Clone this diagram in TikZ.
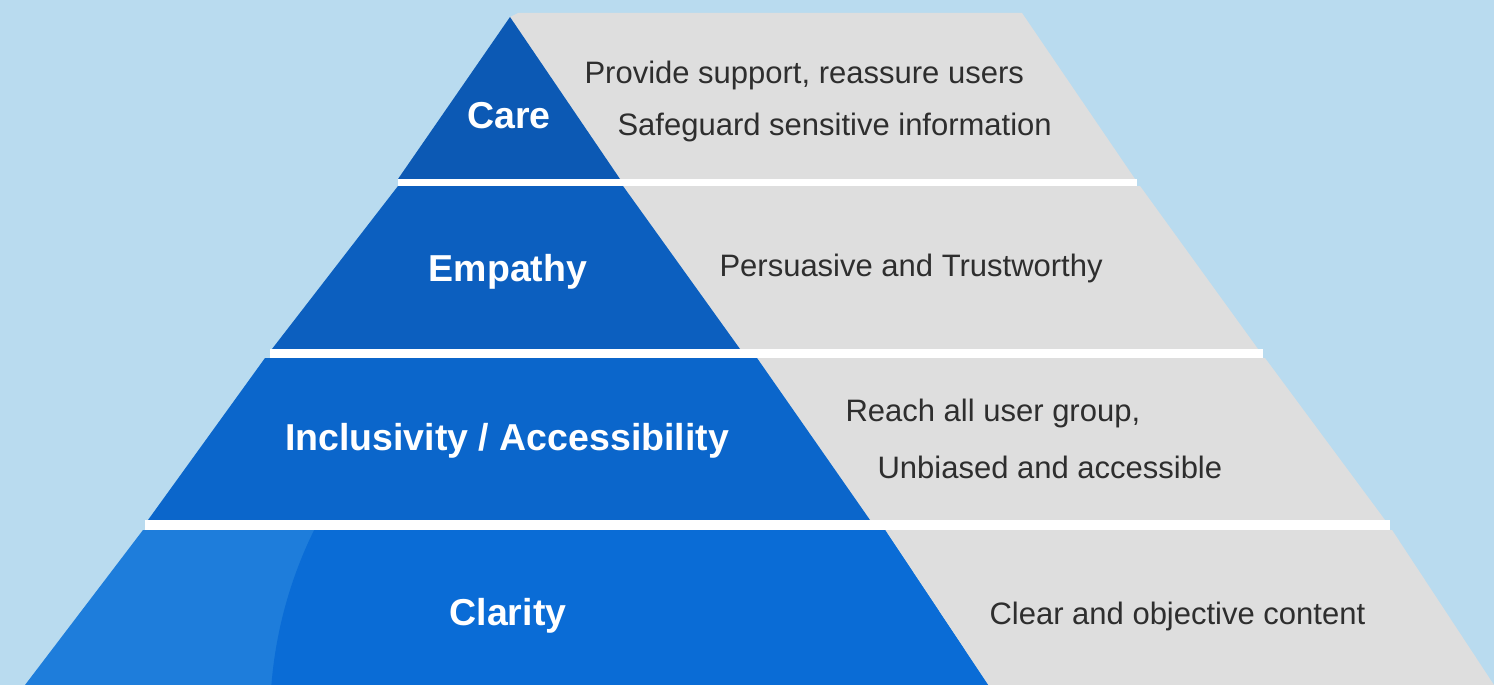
\documentclass[tikz,border=0pt]{standalone}
\usepackage{fontspec}
\setmainfont{Liberation Sans}
\usetikzlibrary{positioning}

\definecolor{Sky}{HTML}{B9DBEF}
\definecolor{Stone}{HTML}{DEDEDE}
\definecolor{Ink}{HTML}{2E2E2E}
\definecolor{BlueCare}{HTML}{0C59B4}
\definecolor{BlueEmp}{HTML}{0C5FBF}
\definecolor{BlueInc}{HTML}{0B66CB}
\definecolor{BlueClaLight}{HTML}{1E7DDB}
\definecolor{BlueCla}{HTML}{0A6CD6}

\tikzset{
  level/.style={text=white, font=\bfseries\fontsize{37.5}{40}\selectfont},
  note/.style={text=Ink, font=\fontsize{31}{34}\selectfont, anchor=west},
  sep/.style={fill=white}
}

\begin{document}
\begin{tikzpicture}[x=1pt, y=-1pt]

  %%%%%%%%%% Background %%%%%%%%%%
 \fill [Sky] (0,0) rectangle (1494,685) ;
 \useasboundingbox (0,0) rectangle (1494,685) ;

  %%%%%%%%%% Points pour travailler %%%%%%%%%%
 % Care
 \coordinate (0) at (510,17);
 \coordinate (1) at (398,179);
 \coordinate (2) at (620,179);
 \coordinate (3) at (518,13);
 \coordinate (4) at (1022,13);
 \coordinate (5) at (1135,179);
 % Empathy
 \coordinate (6) at (398,186);
 \coordinate (7) at (623,186);
 \coordinate (8) at (740,349);
 \coordinate (9) at (272,349);
 \coordinate (10) at (1140,186);
 \coordinate (11) at (1258,349);
 % Inclusivity
 \coordinate (12) at (265,358);
 \coordinate (13) at (757,358);
 \coordinate (14) at (870,520);
 \coordinate (15) at (148,520);
 \coordinate (16) at (1265,358);
 \coordinate (17) at (1385,520);
 % Clarity
 \coordinate (18) at (143,530);
 \coordinate (19) at (885,530);
 \coordinate (20) at (988,685);
 \coordinate (21) at (25,685);
 \coordinate (22) at (1392,530);
 \coordinate (23) at (1494,685);

 %%%%%%%%%% Gray layers %%%%%%%%%%
 \fill [Stone] (0) -- (3) -- (4) -- (5) -- (2) -- cycle ;
 \fill [Stone] (7) -- (10) -- (11) -- (8) -- cycle ;
 \fill [Stone] (13) -- (16) -- (17) -- (14) -- cycle ;
 \fill [Stone] (19) -- (22) -- (23) -- (20) -- cycle ;

 %%%%%%%%%% Blue layers %%%%%%%%%%
 \fill [BlueCare] (0) -- (2) -- (1) -- cycle ;
 \fill [BlueEmp] (6) -- (7) -- (8) -- (9) -- cycle ;
 \fill [BlueInc] (12) -- (13) -- (14) -- (15) -- cycle ;
 \fill [BlueClaLight] (18) -- (19) -- (20) -- (21) -- cycle ;
 \begin{scope}
  \clip (18) -- (19) -- (20) -- (21) -- cycle ;
  \fill [BlueCla] (700,720) circle [radius=430] ;
 \end{scope}

 %%%%%%%%%% White separators %%%%%%%%%%
 \fill [sep] (398,179) rectangle (1137,186) ;
 \fill [sep] (270,349) rectangle (1263,358) ;
 \fill [sep] (145,520) rectangle (1390,530) ;

 %%%%%%%%%% Labels %%%%%%%%%%
 \node [level] (care) at (509,116) {Care};
 \node [level] (empathy) at (508,272) {Empathy};
 \node [level] (inclusivity) at (507,441) {Inclusivity / Accessibility};
 \node [level] (clarity) at (508,616) {Clarity};

 \node [note] (support) at (581,75) {Provide support, reassure users};
 \node [note] (safeguard) at (614,127) {Safeguard sensitive information};
 \node [note] (persuasive) at (716,268) {Persuasive and Trustworthy};
 \node [note] (reach) at (842,413) {Reach all user group,};
 \node [note] (unbiased) at (874,467) {Unbiased and accessible};
 \node [note] (clear) at (986,616) {Clear and objective content};

\end{tikzpicture}
\end{document}
